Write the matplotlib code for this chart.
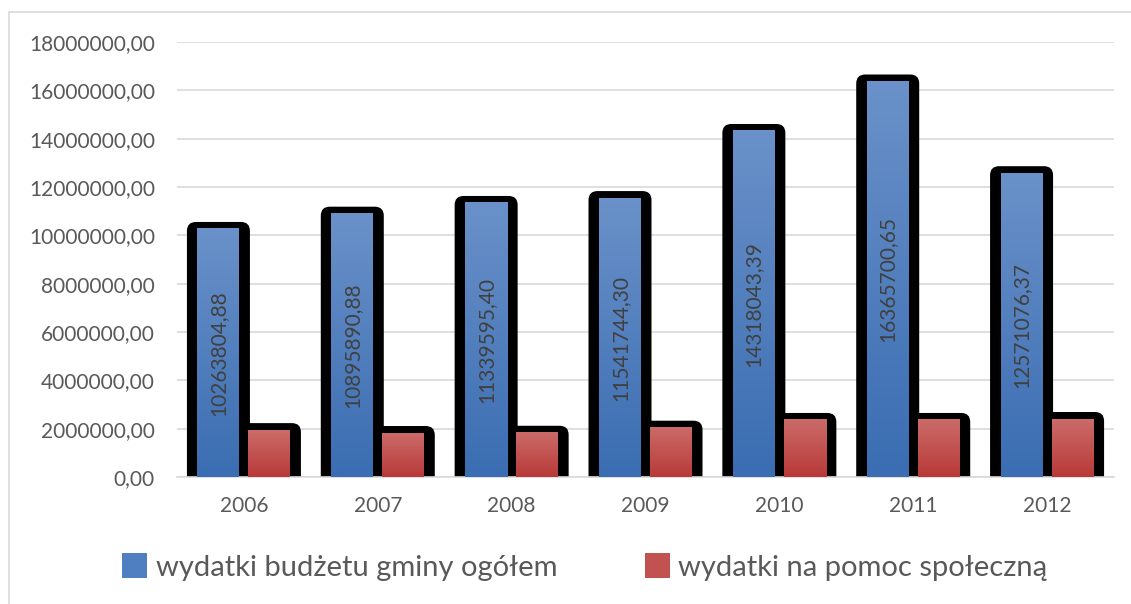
import matplotlib
matplotlib.use("Agg")
import matplotlib.pyplot as plt
import numpy as np
from matplotlib.patches import FancyBboxPatch, Rectangle, Patch
from matplotlib.colors import LinearSegmentedColormap

plt.rcParams['font.family'] = ['Lato', 'DejaVu Sans']

years = ['2006', '2007', '2008', '2009', '2010', '2011', '2012']
total = [10263804.88, 10895890.88, 11339595.40, 11541744.30, 14318043.39, 16365700.65, 12571076.37]
social = [1940000, 1820000, 1830000, 2040000, 2360000, 2360000, 2400000]
labels = ['wydatki budżetu gminy ogółem', 'wydatki na pomoc społeczną']
yticks = [0, 2000000, 4000000, 6000000, 8000000, 10000000, 12000000, 14000000, 16000000, 18000000]

W, H = 1131, 604
fig = plt.figure(figsize=(W / 100, H / 100), dpi=100)
ax = fig.add_axes((177 / W, 127 / H, 937 / W, 435 / H))
ax.set_xlim(-0.5, 6.5)
ax.set_ylim(0, 18000000)

# pixel -> data units
px_x = 7 / 937
px_y = 18000000 / 435

blue_cmap = LinearSegmentedColormap.from_list('b', ['#3a6db2', '#6a91c9'])
red_cmap = LinearSegmentedColormap.from_list('r', ['#b83a38', '#cb6b69'])
grad = np.linspace(0, 1, 100).reshape(-1, 1)

bw = 42 * px_x
off = 25.5 * px_x

def draw_bar(xc, v, cmap):
    # black rounded "shadow" frame
    fb = FancyBboxPatch((xc - bw / 2 - 10.5 * px_x, -1000000),
                        bw + 21 * px_x, v + 1000000 + 7 * px_y,
                        boxstyle="round,pad=0,rounding_size=%f" % (9 * px_x),
                        mutation_aspect=px_y / px_x,
                        facecolor='black', edgecolor='none', zorder=2)
    ax.add_patch(fb)
    ax.imshow(grad, extent=(xc - bw / 2, xc + bw / 2, 0, v), origin='lower',
              cmap=cmap, aspect='auto', zorder=3, interpolation='bilinear')

for i in range(len(years)):
    draw_bar(i - off, total[i], blue_cmap)
    draw_bar(i + off, social[i], red_cmap)
    ax.text(i - off, total[i] / 2, ('%.2f' % total[i]).replace('.', ','),
            rotation=90, ha='center', va='center', color='#404040', fontsize=15, zorder=4)

ax.set_xlim(-0.5, 6.5)
ax.set_ylim(0, 18000000)
ax.set_yticks(yticks)
ax.set_yticklabels([('%.2f' % t).replace('.', ',') for t in yticks])
ax.set_xticks(range(len(years)))
ax.set_xticklabels(years)
ax.tick_params(axis='both', length=0, labelsize=15, labelcolor='#595959')
ax.tick_params(axis='y', pad=16)
ax.tick_params(axis='x', pad=14)
ax.grid(axis='y', color='#d9d9d9', linewidth=1.2, zorder=0)
ax.set_axisbelow(True)
for s in ['top', 'right', 'left']:
    ax.spines[s].set_visible(False)
ax.spines['bottom'].set_color('#d9d9d9')
ax.spines['bottom'].set_linewidth(1.2)

handles = [Patch(facecolor='#4f7fc0', edgecolor='none'), Patch(facecolor='#c25250', edgecolor='none')]
fig.legend(handles, labels, loc='center', bbox_to_anchor=(585 / W, 1 - 567 / H), ncol=2,
           frameon=False, fontsize=21, labelcolor='#595959', handlelength=0.85, handleheight=0.9,
           handletextpad=0.3, columnspacing=3.0)

fig.patches.append(Rectangle((9 / W, -0.1), 1.2, 0.1 + (H - 12) / H, transform=fig.transFigure,
                             facecolor='none', edgecolor='#d9d9d9', linewidth=1.2))

fig.savefig('out.png', dpi=100)
